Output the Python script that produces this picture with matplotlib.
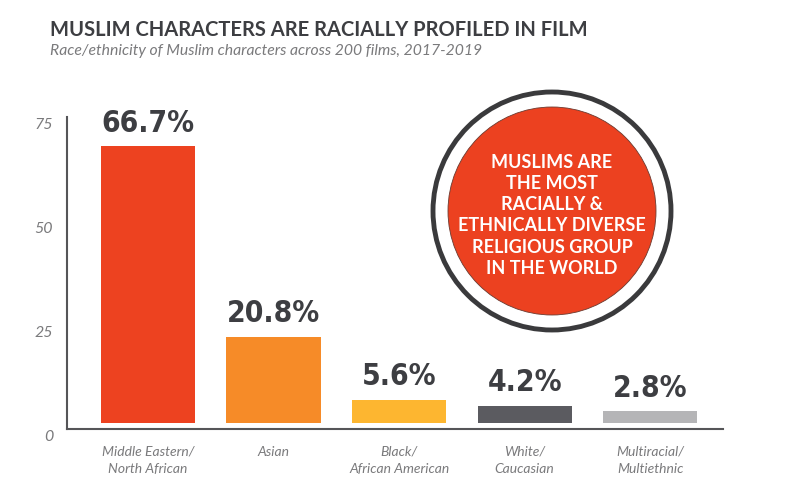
import matplotlib
matplotlib.use("Agg")
import matplotlib.pyplot as plt
from matplotlib.patches import Circle
from matplotlib import font_manager

# donnees
categories = ["Middle Eastern/\nNorth African", "Asian", "Black/\nAfrican American",
              "White/\nCaucasian", "Multiracial/\nMultiethnic"]
valeurs = [66.7, 20.8, 5.6, 4.2, 2.8]
etiquettes = ["66.7%", "20.8%", "5.6%", "4.2%", "2.8%"]
couleurs = ["#ED4220", "#F68B28", "#FDB630", "#5B5B60", "#B5B5B7"]
graduations = [0, 25, 50, 75]

titre = "MUSLIM CHARACTERS ARE RACIALLY PROFILED IN FILM"
sous_titre = "Race/ethnicity of Muslim characters across 200 films, 2017-2019"
texte_cercle = ("MUSLIMS ARE\nTHE MOST\nRACIALLY &\nETHNICALLY DIVERSE\n"
                "RELIGIOUS GROUP\nIN THE WORLD")

sombre = "#3D3E42"
gris = "#7A7A7C"

# police etroite pour les pourcentages
noms = {f.name for f in font_manager.fontManager.ttflist}
if "Liberation Sans Narrow" in noms:
    police_etroite = dict(family="Liberation Sans Narrow")
else:
    police_etroite = dict(family="DejaVu Sans", stretch="condensed")

fig = plt.figure(figsize=(8, 4.98), dpi=100)
ax = fig.add_axes([0.08375, 0.1215, 0.82, 0.6435])

# axes d'abord (set_position remet les ticks a zero)
for s in ["top", "right"]:
    ax.spines[s].set_visible(False)
ax.spines["bottom"].set_position(("data", -1.45))
ax.spines["left"].set_bounds(-1.45, 73.7)
for s in ["left", "bottom"]:
    ax.spines[s].set_color("#555558")
    ax.spines[s].set_linewidth(1.5)

x = range(len(valeurs))
ax.bar(x, valeurs, width=0.75, color=couleurs, zorder=2)
for i, v in enumerate(valeurs):
    ax.text(i, v + 2.0, etiquettes[i], ha="center", va="bottom",
            fontsize=21.5, fontweight="bold", color=sombre, **police_etroite)

ax.set_xlim(-0.645, 4.58)
ax.set_ylim(-3.5, 73.7)
# les etiquettes de l'axe y sont un peu decalees vers le bas sur l'original
ax.set_yticks([g - 2.9 for g in graduations])
ax.set_yticklabels([str(g) for g in graduations], fontsize=11.5, style="italic",
                   color=gris, family="Lato")
ax.tick_params(axis="y", length=0, pad=10)
ax.set_xticks(list(x))
ax.set_xticklabels(categories, fontsize=10, style="italic", color=gris,
                   family="Lato", linespacing=1.5)
ax.tick_params(axis="x", length=0, pad=12)

# cercle a droite
cx, cy = 5.52, 2.87
fig.add_artist(Circle((cx, cy), 1.19, transform=fig.dpi_scale_trans,
                      facecolor="white", edgecolor="#3A3A3C", linewidth=3.5, zorder=3))
fig.add_artist(Circle((cx, cy), 1.04, transform=fig.dpi_scale_trans,
                      facecolor="#EC4120", edgecolor="#6A3A30", linewidth=0.6, zorder=4))
fig.text(0.69, 0.5677, texte_cercle, ha="center", va="center", fontsize=13,
         fontweight="bold", color="white", family="Lato", linespacing=1.3, zorder=5)

fig.text(0.0625, 0.939, titre, ha="left", va="center", fontsize=14.5,
         fontweight="bold", color=sombre, family="Lato")
fig.text(0.0625, 0.898, sous_titre, ha="left", va="center", fontsize=11.3,
         style="italic", color=gris, family="Lato")

fig.savefig("out.png", dpi=100, facecolor="white")
